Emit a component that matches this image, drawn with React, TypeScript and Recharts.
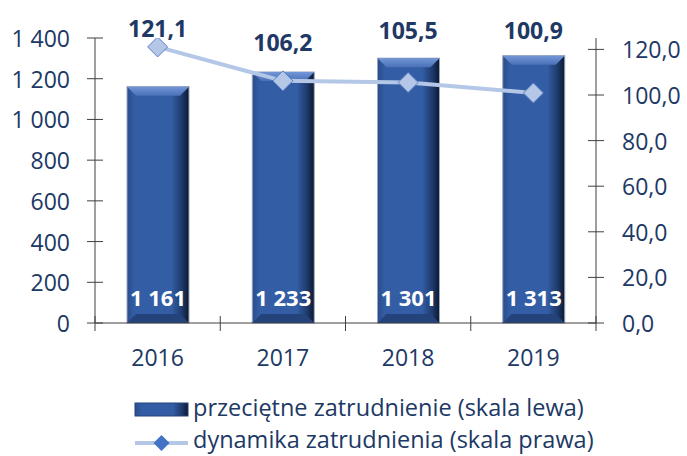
import React from 'react'
import { ComposedChart, Bar, Line, XAxis, YAxis, Legend, LabelList } from 'recharts'

const years = ['2016', '2017', '2018', '2019']
const employment = [1161, 1233, 1301, 1313]
const dynamics = [121.1, 106.2, 105.5, 100.9]
const leftTicks = [0, 200, 400, 600, 800, 1000, 1200, 1400]
const rightTicks = [0, 20, 40, 60, 80, 100, 120]

const data = years.map((year, i) => ({ year, employment: employment[i], dynamics: dynamics[i] }))

// how far each line label sits above its point (labels were placed by hand in the original)
const lineLabelLift = [19, 39, 52, 63]

const FONT = '"Open Sans", "Noto Sans", sans-serif'
const TEXT = '#203864'
const AXIS = '#404040'
const BAND = 125.25

const fmtInt = (v: number) => String(v).replace(/\B(?=(\d{3})+(?!\d))/g, ' ')
const fmtDec = (v: number) => v.toFixed(1).replace('.', ',')

const LeftTick = (props: any) => {
  const { x, y, payload } = props
  return (
    <g>
      <line x1={x - 8} x2={x + 8} y1={y} y2={y} stroke={AXIS} strokeWidth={1} />
      <text x={x - 25} y={y} textAnchor="end" dominantBaseline="central" fill={TEXT} fontSize={23} fontFamily={FONT}>
        {fmtInt(payload.value)}
      </text>
    </g>
  )
}

const RightTick = (props: any) => {
  const { x, y, payload } = props
  return (
    <g>
      <line x1={x - 8} x2={x + 8} y1={y} y2={y} stroke={AXIS} strokeWidth={1} />
      <text x={x + 26} y={y} textAnchor="start" dominantBaseline="central" fill={TEXT} fontSize={23} fontFamily={FONT}>
        {fmtDec(payload.value)}
      </text>
    </g>
  )
}

const BottomTick = (props: any) => {
  const { x, y, payload, index } = props
  return (
    <g>
      <line x1={x - BAND / 2} x2={x - BAND / 2} y1={y - 7} y2={y + 8} stroke={AXIS} strokeWidth={1} />
      {index === years.length - 1 && (
        <line x1={x + BAND / 2} x2={x + BAND / 2} y1={y - 7} y2={y + 8} stroke={AXIS} strokeWidth={1} />
      )}
      <text x={x} y={y + 34} textAnchor="middle" dominantBaseline="central" fill={TEXT} fontSize={23} fontFamily={FONT}>
        {payload.value}
      </text>
    </g>
  )
}

const BevelBar = (props: any) => {
  const { x, y, width, height } = props
  const b = 9
  return (
    <g>
      <rect x={x} y={y} width={width} height={height} fill="url(#barBody)" stroke="#9aa6bd" strokeWidth={1} />
      <polygon
        points={`${x},${y} ${x + width},${y} ${x + width - b},${y + b} ${x + b},${y + b}`}
        fill="url(#barTop)"
      />
      <polygon
        points={`${x + b},${y + height - b} ${x + width - b},${y + height - b} ${x + width},${y + height} ${x},${y + height}`}
        fill="#24437a"
      />
    </g>
  )
}

const Diamond = (props: any) => {
  const { cx, cy } = props
  const r = 10
  return (
    <polygon
      points={`${cx},${cy - r} ${cx + r},${cy} ${cx},${cy + r} ${cx - r},${cy}`}
      fill="#B4C7E7"
      stroke="#5b7fc4"
      strokeWidth={1}
    />
  )
}

const BarValueLabel = (props: any) => {
  const { x, y, width, height, value } = props
  return (
    <text
      x={x + width / 2}
      y={y + height - 26}
      textAnchor="middle"
      dominantBaseline="central"
      fill="#ffffff"
      fontSize={22}
      fontWeight="bold"
      fontFamily={FONT}
    >
      {fmtInt(value)}
    </text>
  )
}

const LineValueLabel = (props: any) => {
  const { x, y, value, index } = props
  return (
    <text
      x={x}
      y={y - lineLabelLift[index]}
      textAnchor="middle"
      dominantBaseline="central"
      fill={TEXT}
      fontSize={23}
      fontWeight="bold"
      fontFamily={FONT}
    >
      {fmtDec(value)}
    </text>
  )
}

// legend drawn as its own svg strip under the x axis
const LegendBox = () => (
  <svg width={687} height={82} style={{ display: 'block' }}>
    <rect x={135} y={29} width={53} height={13} fill="url(#barBody)" stroke="#24437a" strokeWidth={1} />
    <text x={193} y={41.5} fill={TEXT} fontSize={23.5} fontFamily={FONT}>
      przeciętne zatrudnienie (skala lewa)
    </text>
    <line x1={135} x2={188} y1={69} y2={69} stroke="#B4C7E7" strokeWidth={4} />
    <polygon points="161.5,61 169.5,69 161.5,77 153.5,69" fill="#4472C4" />
    <text x={193} y={74} fill={TEXT} fontSize={23.5} fontFamily={FONT}>
      dynamika zatrudnienia (skala prawa)
    </text>
  </svg>
)

export default function App() {
  return (
    <div style={{ position: 'absolute', left: 0, top: 0, width: 687, height: 456, background: '#fff' }}>
      <ComposedChart width={687} height={456} data={data} margin={{ top: 38, right: 0, bottom: 0, left: 0 }}>
        <defs>
          <linearGradient id="barBody" x1="0" y1="0" x2="1" y2="0">
            <stop offset="0%" stopColor="#2a4d8c" />
            <stop offset="12%" stopColor="#335da4" />
            <stop offset="72%" stopColor="#335da4" />
            <stop offset="88%" stopColor="#1f3b6e" />
            <stop offset="100%" stopColor="#0c1830" />
          </linearGradient>
          <linearGradient id="barTop" x1="0" y1="0" x2="0" y2="1">
            <stop offset="0%" stopColor="#7396d6" />
            <stop offset="100%" stopColor="#4a71b8" />
          </linearGradient>
        </defs>
        <XAxis
          dataKey="year"
          height={51}
          tickSize={0}
          tickMargin={0}
          tickLine={false}
          axisLine={{ stroke: AXIS }}
          tick={<BottomTick />}
          interval={0}
        />
        <YAxis
          yAxisId="left"
          width={95}
          domain={[0, 1400]}
          ticks={leftTicks}
          tickSize={0}
          tickMargin={0}
          tickLine={false}
          axisLine={{ stroke: AXIS }}
          tick={<LeftTick />}
          interval={0}
        />
        <YAxis
          yAxisId="right"
          orientation="right"
          width={91}
          domain={[0, 125]}
          ticks={rightTicks}
          tickSize={0}
          tickMargin={0}
          tickLine={false}
          axisLine={{ stroke: AXIS }}
          tick={<RightTick />}
          interval={0}
          allowDataOverflow
        />
        <Legend verticalAlign="bottom" content={() => <LegendBox />} wrapperStyle={{ left: 0, width: 687, height: 82 }} />
        <Bar yAxisId="left" dataKey="employment" barSize={62} shape={<BevelBar />} isAnimationActive={false}>
          <LabelList dataKey="employment" content={<BarValueLabel />} />
        </Bar>
        <Line
          yAxisId="right"
          dataKey="dynamics"
          stroke="#B4C7E7"
          strokeWidth={4}
          dot={<Diamond />}
          activeDot={false}
          isAnimationActive={false}
        >
          <LabelList dataKey="dynamics" content={<LineValueLabel />} />
        </Line>
      </ComposedChart>
    </div>
  )
}
